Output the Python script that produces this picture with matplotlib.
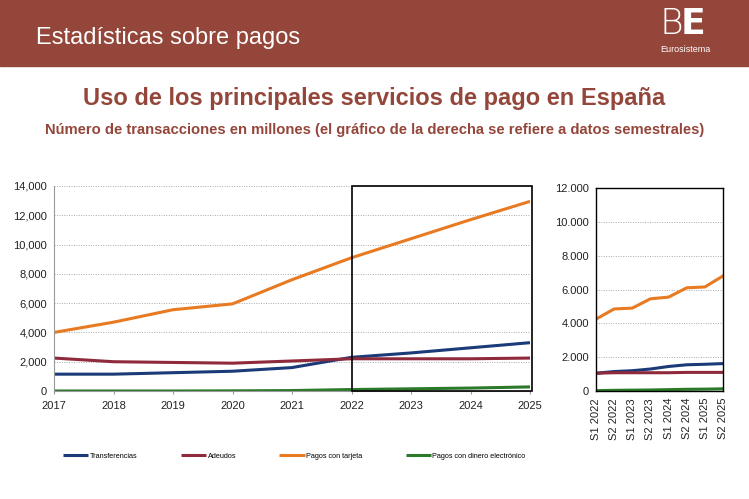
import matplotlib
matplotlib.use("Agg")
import matplotlib.pyplot as plt
from matplotlib.patches import Rectangle
from matplotlib.ticker import FuncFormatter

# annual data (millions of transactions)
years = [2017, 2018, 2019, 2020, 2021, 2022, 2023, 2024, 2025]
transferencias = [1150, 1150, 1250, 1350, 1600, 2300, 2600, 2950, 3300]
adeudos = [2250, 2000, 1950, 1900, 2050, 2200, 2200, 2200, 2250]
tarjeta = [4000, 4700, 5550, 5950, 7600, 9100, 10400, 11700, 12950]
dinero_e = [0, 0, 0, 10, 30, 100, 150, 200, 280]

# semester data
semestres = ["S1 2022", "S2 2022", "S1 2023", "S2 2023", "S1 2024", "S2 2024", "S1 2025", "S2 2025"]
transf_s = [1050, 1150, 1200, 1300, 1450, 1550, 1580, 1620]
adeudos_s = [1050, 1080, 1080, 1080, 1080, 1100, 1100, 1100]
tarjeta_s = [4250, 4850, 4900, 5450, 5550, 6100, 6150, 6800]
dinero_s = [20, 40, 50, 60, 80, 100, 110, 130]

names = ["Transferencias", "Adeudos", "Pagos con tarjeta", "Pagos con dinero electrónico"]
colors = ["#1a3a78", "#8e2a3c", "#e87a22", "#2a7a2a"]

W, H = 749, 499
fig = plt.figure(figsize=(W / 100, H / 100), dpi=100)
brown = "#94463a"
plt.rcParams["font.family"] = ["Liberation Sans", "DejaVu Sans"]

# header band
fig.patches.append(Rectangle((0, 1 - 66 / H), 1, 66 / H, transform=fig.transFigure,
                             color=brown, zorder=0))
fig.text(36 / W, 1 - 38 / H, "Estadísticas sobre pagos", color="white", fontsize=17,
         va="center")
fig.text(659 / W, 1 - 24 / H, "B", color="white", fontsize=26, family="DejaVu Sans",
         weight="light", va="center")
fig.text(681 / W, 1 - 24 / H, "E", color="white", fontsize=26, family="DejaVu Sans",
         weight="bold", va="center")
fig.text(660 / W, 1 - 50 / H, "Eurosistema", color="white", fontsize=6.5, va="center")

fig.text(0.5, 1 - 98 / H, "Uso de los principales servicios de pago en España",
         color=brown, fontsize=17, weight="bold", ha="center", va="center")
fig.text(0.5, 1 - 130 / H,
         "Número de transacciones en millones (el gráfico de la derecha se refiere a datos semestrales)",
         color=brown, fontsize=10.6, weight="bold", ha="center", va="center")

fmt = FuncFormatter(lambda v, p: f"{int(v):,}".replace(",", "."))

# left axes
ax = fig.add_axes([54 / W, 1 - 391 / H, (530 - 54) / W, (391 - 186) / H])
series = [transferencias, adeudos, tarjeta, dinero_e]
for s, c, n in zip(series, colors, names):
    ax.plot(years, s, color=c, lw=2.2, label=n, solid_capstyle="butt")
ax.set_xlim(2017, 2025)
ax.set_ylim(0, 14000)
ax.set_yticks(range(0, 14001, 2000))
ax.yaxis.set_major_formatter(FuncFormatter(lambda v, p: f"{int(v):,}"))
ax.set_xticks(years)
ax.grid(axis="y", color="#aaaaaa", ls=(0, (1, 1.5)), lw=0.7)
for sp in ["top", "right"]:
    ax.spines[sp].set_visible(False)
ax.spines["left"].set_color("#999999")
ax.spines["bottom"].set_color("#999999")
ax.tick_params(axis="both", labelsize=8, colors="#222222", length=0, pad=5)
ax.tick_params(axis="x", length=2, color="#999999")
ax.add_patch(Rectangle((2022, 0), 3.03, 14000, fill=False, ec="black", lw=1.2,
                       clip_on=False, zorder=5))
ax.legend(loc="upper center", bbox_to_anchor=(0.505, -0.27), ncol=4, frameon=False,
          fontsize=5.2, handlelength=3.5, columnspacing=6, handletextpad=0.2)

# right axes
ax2 = fig.add_axes([596 / W, 1 - 391 / H, (723 - 596) / W, (391 - 188) / H])
xs = range(len(semestres))
for s, c in zip([transf_s, adeudos_s, tarjeta_s, dinero_s], colors):
    ax2.plot(xs, s, color=c, lw=2.2)
ax2.set_xlim(0, len(semestres) - 1)
ax2.set_ylim(0, 12000)
ax2.set_yticks(range(0, 12001, 2000))
ax2.yaxis.set_major_formatter(fmt)
ax2.set_xticks(list(xs))
ax2.set_xticklabels(semestres, rotation=90)
ax2.grid(axis="y", color="#aaaaaa", ls=(0, (1, 1.5)), lw=0.7)
for sp in ax2.spines.values():
    sp.set_color("black")
    sp.set_linewidth(1.0)
ax2.tick_params(axis="both", labelsize=8, colors="#222222", length=0, pad=5)

fig.savefig("out.png", dpi=100)
